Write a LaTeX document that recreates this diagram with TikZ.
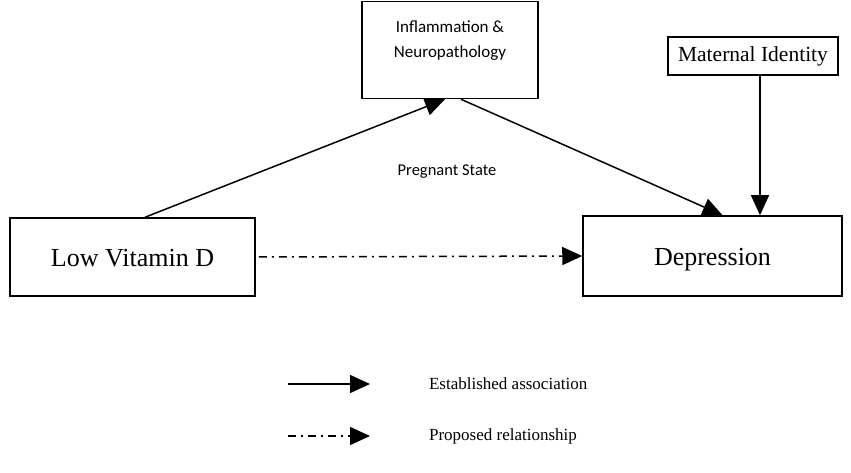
\documentclass[tikz,border=0pt]{standalone}
\usepackage{fontspec}
\setmainfont{Liberation Serif}
\newfontfamily\calibri{Carlito}
\usetikzlibrary{arrows.meta}

\begin{document}
\begin{tikzpicture}[
        x=1pt, y=-1pt,
        >={Triangle[length=20pt,width=18pt]},
        line width=1.5pt,
        box/.style={draw, rectangle, inner sep=0pt, align=center},
        big/.style={font=\fontsize{26}{30}\selectfont, text height=20pt, text depth=2pt},
        proposed/.style={dash pattern=on 8pt off 5pt on 2pt off 5pt}
        ]
        \useasboundingbox (0,0) rectangle (851,473);

        \node[box, minimum width=176pt, minimum height=97pt, font=\calibri\fontsize{17}{25}\selectfont] (infl) at (450,50) {Inflammation \&\\Neuropathology\\[-4pt]};
        \node[box, minimum width=170pt, minimum height=38pt, font=\fontsize{21.5}{24}\selectfont] (maternal) at (753,56) {Maternal Identity};
        \node[box, big, minimum width=245pt, minimum height=78pt] (lowvit) at (132.5,257) {Low Vitamin D};
        \node[box, big, minimum width=259pt, minimum height=80pt] (depr) at (712.5,256) {Depression};
        \node[font=\calibri\fontsize{16.5}{20}\selectfont] (pregnant) at (447,172) {Pregnant State};

        \path[->]
              ([xshift=12.5pt]lowvit.north) edge ([xshift=-5pt]infl.south)
              ([xshift=11pt]infl.south) edge ([xshift=10pt]depr.north)
              ([xshift=7pt]maternal.south) edge ([xshift=7pt]maternal.south |- depr.north);
        \draw[->, proposed, shorten <=3pt] (lowvit.east) -- (depr.west);

        % legend
        \coordinate (solidA) at (288,384);
        \coordinate (solidB) at (370,384);
        \coordinate (dashA) at (288,436);
        \coordinate (dashB) at (370,436);
        \draw[->] (solidA) -- (solidB);
        \draw[->, proposed] (dashA) -- (dashB);
        \node[anchor=west, font=\fontsize{17}{20}\selectfont] (established) at (425,384) {Established association};
        \node[anchor=west, font=\fontsize{17}{20}\selectfont] (proposedtxt) at (425,436) {Proposed relationship};
\end{tikzpicture}
\end{document}
